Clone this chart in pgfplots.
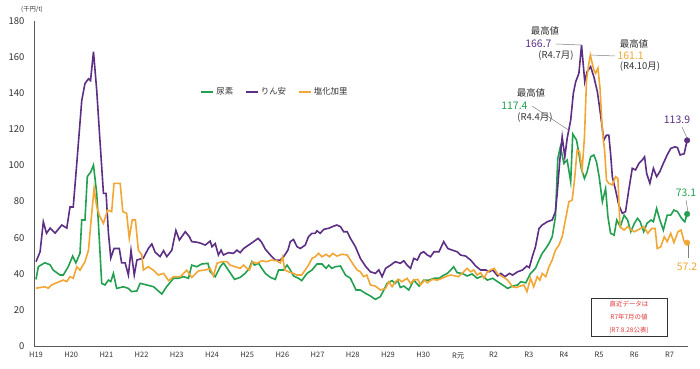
\documentclass[border=0pt]{standalone}
\usepackage{fontspec}
\setmainfont{Noto Sans CJK JP}
\setsansfont{Noto Sans CJK JP}
\usepackage{pgfplots}
\pgfplotsset{compat=1.18}
\definecolor{cgreen}{RGB}{34,160,80}
\definecolor{cpurple}{RGB}{92,46,132}
\definecolor{corange}{RGB}{242,166,52}
\definecolor{caxis}{RGB}{90,90,90}
\definecolor{cred}{RGB}{225,55,55}
\definecolor{ctext}{RGB}{50,50,50}
\begin{document}
\begin{tikzpicture}
\useasboundingbox (0,0) rectangle (700bp,369bp);
\begin{axis}[
  at={(34bp,23bp)}, anchor=south west,
  scale only axis, width=654bp, height=325bp,
  xmin=-0.68, xmax=222.3, ymin=0, ymax=180,
  axis x line*=bottom, axis y line*=left,
  axis line style={caxis, line width=0.9bp},
  major tick length=0pt,
  ytick={0,20,...,180},
  xtick={0,12,...,216},
  xticklabels={H19,H20,H21,H22,H23,H24,H25,H26,H27,H28,H29,H30,R元,R2,R3,R4,R5,R6,R7},
  /pgf/number format/assume math mode=true,
  yticklabel style={font=\fontsize{9.5}{10}\selectfont, text=ctext, xshift=-6bp},
  xticklabel style={font=\fontsize{7.5}{8}\selectfont, text=ctext, yshift=-3bp},
  clip=false,
  legend columns=3,
  legend style={draw=none, fill=none, at={(0.25,0.782)}, anchor=west,
    font=\fontsize{8.5}{9}\selectfont, text=ctext,
    /tikz/every even column/.append style={column sep=10bp}},
  legend image code/.code={\draw[#1, line width=1.6bp] (0bp,0bp) -- (12bp,0bp);},
]
\addplot[cgreen, line width=1.6bp] coordinates {
(0,36.9) (0.8,43.9) (3,46.1) (4.8,45) (5.9,42) (8.2,39.3) (9.3,39.3) (11,43.9) (12.5,49.8) (13.6,46) (15,51.3) (15.6,69.8) (16.7,69.8) (17.5,93.8) (18.7,96.5) (19.6,100.2) (20.7,84.5) (21.6,58.7) (22.4,34.7) (23.5,33.8) (24.7,36.5) (25.5,35.7) (26.4,40.2) (27.5,31.9) (29.8,32.8) (31.5,31.9) (32.6,30.1) (34.4,30.5) (35.5,34.7) (37.8,33.8) (40.1,32.8) (42.9,28.8) (44.6,33) (46.9,37.5) (48.6,37.5) (50.3,38.4) (52,37.5) (53.1,44.8) (54.8,43.9)
(56.5,45.4) (58.6,45.8) (59.4,41.1) (61.1,38.4) (62.8,43.9) (63.9,46.1) (65.6,42) (67.7,36.9) (69.6,38) (71.3,40.2) (72.7,43) (73.6,46.7) (74.5,44.8) (75.9,45.8) (77,43) (78.2,40.2) (79.9,38) (81.6,36.9) (82.7,42.1) (84.4,42.1) (85.6,44.8) (86.7,42.1) (87.8,38.8) (89.5,37.5) (90.6,36.2) (92.4,40.2) (94.1,42.1) (95.8,45.4) (97.5,45.4) (98.9,43) (99.8,44.8) (100.9,43) (102,43.9) (103.8,44.3) (105.5,39.3) (107.2,37.5) (108.3,33.8) (109.1,31) (110.6,31)
(112.3,29.2) (114,27.7) (115.7,25.8) (117.4,27.3) (118.6,31) (119.7,34.7) (121.4,36.2) (122.5,34.7) (123.3,36.5) (124.2,32.4) (125.4,33.2) (127.1,31) (128.8,36.5) (130.6,33.2) (132.2,36.5) (134,36.5) (135.7,37.5) (137.4,37.5) (139.1,39.3) (140.2,40.2) (141.4,42.1) (142.4,43.9) (143.6,40.6) (145.3,40.2) (147,38.8) (148.7,39.9) (150.4,37.5) (152.2,38.8) (153.9,36.5) (155.7,37.5) (157.4,35.6) (159.1,33.8) (160.8,31.9) (162.5,33.2) (164.2,33.8) (165.3,35.6) (167,35)
(168.6,40.2) (170.3,43) (171.5,47.6) (172.6,51.3) (173.8,54) (174.9,56.8) (176,60.5) (177.1,71.6) (177.9,103.9) (178.8,110.4) (180,101.1) (181.1,103) (182.3,91) (183,117.4) (184.3,114) (185.1,106.6) (185.9,98.4) (187,92.8) (187.9,96.5) (189.1,104.8) (190.2,105.8) (191.1,102) (192,93.8) (193.1,79.9) (194.2,87.2) (195,71.6) (195.9,62.4) (197.1,61.4) (198,69.8) (199.2,66.1) (200.5,72.5) (201.7,69.8) (202.8,63.3) (204,67.9) (205.1,70.7) (206,68.8) (207.2,63.3) (208.3,67.9) (209.7,69.8) (210.5,68.8) (211.6,76.2) (212.7,69.8) (213.9,64.2) (215.2,72.5) (216.4,72.5) (217.5,75.3) (218.7,74.4) (220.1,70.7) (221.2,68.8) (222,73.1)
};
\addlegendentry{尿素}
\addplot[cpurple, line width=1.6bp] coordinates {
(0,46.7) (1.4,52.2) (2.5,68.8) (3.6,62.4) (4.8,65.3) (6.5,62.5) (8.8,67) (10.5,65.3) (11.6,77) (12.7,77) (13.9,101) (15.6,136) (16.7,145.4) (17.9,148) (18.6,147) (19.6,163) (20.7,141.7) (21.8,114) (23,84.5) (23.9,84.5) (24.7,62.5) (25.5,48.7) (26.6,54) (28.4,54) (29.2,46) (30.4,46) (31.5,39.3) (32.4,53) (33.5,39.3) (34.4,47.6) (36.6,48.7) (38.3,54) (39.5,56.5) (40.6,52) (42.3,49.5) (43.5,52.8) (44.6,49.5) (46.3,53) (47.7,64) (48.9,58.7) (50.9,63.3) (52.3,60.5) (53.1,57.8) (54.8,57.5)
(56,57) (57.7,55.9) (59.4,58.1) (60,55) (61.1,56.8) (62.2,50.4) (63.1,53.1) (63.9,50.4) (65.6,51.7) (67.3,51.3) (68.5,53.1) (69.6,51.7) (70.8,54) (72.5,55.9) (74.2,57.8) (75.7,59.6) (76.8,57.8) (78.2,53.6) (79.9,50.4) (81.6,47.6) (83.3,47.6) (84.4,49.4) (85.9,53.1) (86.7,57.8) (87.8,59) (89,55) (90.1,54) (91.8,55.9) (92.9,60.5) (94.1,62.4) (95.2,62.4) (95.8,63.8) (96.9,62.4) (98.1,64.6) (99.8,65.2) (101.5,66.4) (102.6,67) (103.8,66.1) (104.9,63.3) (106.1,63.3) (107.2,59.6) (108.9,55) (110.6,48.5) (111.7,45.8)
(112.3,44.3) (114,41.1) (115.7,40.2) (116.9,42.1) (118,38.4) (119.2,43) (120.9,44.8) (122.5,46.7) (124.2,45.8) (125.4,47.2) (126.5,44.8) (127.7,43) (128.8,48.5) (130,47.6) (131.1,51.3) (132.2,52.2) (133.4,50.4) (134.5,49.4) (135.7,52.2) (137.4,52.2) (138.2,55) (139,57.8) (140.4,54) (141.9,53.1) (143.6,52.2) (144.7,50.4) (146.5,49.8) (148.2,47.6) (149.9,44.3) (151.6,42.1) (153.4,42.1) (154.5,41.1) (155.7,42.1) (157.4,38.8) (158.5,40.2) (159.9,38.4) (161.4,40.2) (162.5,39.3) (164.2,41.1) (165.9,42.1) (167.3,44.3) (168.2,43.4)
(169.2,49.4) (170.3,55) (171.5,65.1) (172.6,67) (174.3,68.8) (176,69.8) (177.1,74.4) (177.7,84.5) (178.6,103) (179.4,115.9) (180.3,104.8) (181.1,115) (182.3,125.1) (183.2,139.9) (184,146.3) (185.1,151) (186,166.7) (187.1,146.3) (187.9,151.9) (189.1,154.7) (190.2,149.1) (191.4,140.8) (192.5,127.9) (193.6,114) (194.5,116.8) (195.3,116.8) (195.9,106.6) (196.5,93.7) (197.6,86.4) (198.7,78.1) (199.9,73.5) (201,74.4) (202.1,86.4) (203.3,98.4) (204.4,97.5) (205.6,101.2) (206.7,103) (207.5,104.8) (208.2,95.6) (209.3,90.1) (210.5,98.4) (211.6,93.8) (212.7,96.6) (213.9,101.2) (215.2,105.8) (216.4,109.4) (217.8,110.3) (218.7,109.9) (219.6,105.8) (221,106.5) (222,113.9)
};
\addlegendentry{りん安}
\addplot[corange, line width=1.6bp] coordinates {
(0,32) (3,32.8) (4.2,32) (5.3,33.8) (7,35) (9.3,36.5) (10.5,35.7) (11.6,38.4) (12.7,37.5) (13.9,43.9) (15,42) (16.7,46.7) (17.9,53.1) (18.8,69.8) (19.8,87.3) (20.7,77.1) (21.8,71.6) (23,67.9) (24.4,75.3) (25.8,74.4) (26.6,90.1) (28.7,90.1) (29.6,74.4) (30.9,73.5) (31.8,59.6) (32.8,69.8) (33.9,69.8) (34.9,53.1) (36.1,50.4) (36.6,42.1) (38.3,43.9) (40,42) (41.7,39.3) (43.5,40.2) (45.2,36.2) (46.9,38.4) (49.2,38.4) (51.4,42) (53.1,38) (55.4,41.6)
(57.7,42.1) (59.4,43) (60.5,38.8) (61.7,45.8) (63.4,46.7) (65.1,46.7) (66.2,44.8) (67.9,43.9) (69.6,43) (70.8,44.8) (71.9,43) (72.8,42.1) (73.8,46.7) (75.3,45.8) (77,47.2) (78.7,46.7) (80.4,47.6) (82.1,47.2) (83.3,46) (84.1,49.4) (84.8,42.1) (86.1,41.1) (87.8,40.2) (89,39.3) (90.6,39.3) (91.8,42.1) (92.9,44.8) (94.1,48.5) (95.2,49.4) (96.4,51.3) (97.5,49.4) (98.9,50.8) (100,49.4) (101.2,51.3) (102.6,49.8) (104.3,50.8) (106.1,50.4) (107.2,47.6) (108.3,44.8) (109.5,42.1) (110.6,41.1) (111.7,38.4)
(112.8,39.3) (114,33.8) (115.7,33.2) (117.4,31) (119.2,31.9) (120.3,35.6) (121.4,32.8) (122.5,35.6) (123.7,36.9) (124.8,35.6) (126.5,37.5) (127.7,34.7) (128.8,36.5) (130.2,36.9) (131.1,33.8) (132.5,36.5) (133.4,35) (135.1,36.9) (136.8,36.5) (138.5,37.5) (140.2,38.8) (141.4,39.3) (143,38.8) (144.1,38.4) (145.8,41.1) (147,43) (148.2,41.1) (149.3,42.1) (150.4,39.3) (151.6,40.6) (152.7,37.5) (153.9,41.1) (155,42.1) (156.2,43) (157.4,39.9) (159.1,38.4) (160.8,36.5) (162.5,32.8) (163.7,32.4) (165.1,33.2) (166.3,33.8) (167.4,30.1) (168.6,37.5) (169.7,32.8)
(170.9,38.4) (171.8,36.5) (172.6,40.2) (173.8,38.4) (174.9,43.9) (176,47.6) (177.1,53.1) (178.3,55.9) (179.4,60.5) (180.5,69.8) (181.7,79.9) (182.8,80.8) (183.6,91.9) (184.5,108.5) (185.3,107.6) (186.2,97.5) (187,115.9) (187.7,147.3) (188.5,156.5) (189,161.1) (190.2,152.8) (190.8,151) (191.6,153.8) (192.3,142.7) (193.1,119.6) (193.9,107.6) (194.5,91.9) (195.3,90.1) (196.5,89.2) (197.6,93.8) (198.4,92.8) (199.1,66.1) (200.5,64.2) (201.7,66.1) (203,64.2) (204,63.3) (205.6,64.6) (207.2,66.1) (208.6,62.4) (209.9,65.1) (211.1,65.1) (211.8,54) (213,54.9) (214.2,60.5) (215.2,57.8) (216.4,62.4) (217.5,57.3) (218.9,63.3) (219.9,64.2) (221,57.8) (222,57.2)
};
\addlegendentry{塩化加里}
\addplot[cpurple, only marks, mark=*, mark size=2.8bp, forget plot] coordinates {(222,113.9)};
\addplot[cgreen, only marks, mark=*, mark size=2.8bp, forget plot] coordinates {(222,73.1)};
\addplot[corange, only marks, mark=*, mark size=2.8bp, forget plot] coordinates {(222,57.2)};
\end{axis}
\begin{scope}[shift={(0bp,369bp)}, yscale=-1, x=1bp, y=1bp]
  \node[font=\fontsize{6.3}{7}\selectfont, text=ctext] at (32,10) {(千円/t)};
  % purple max
  \node[font=\fontsize{9.5}{10}\selectfont, text=ctext] at (545,31) {最高値};
  \node[font=\fontsize{10.5}{11}\selectfont, text=cpurple, anchor=east] at (555,44) {166.7};
  \draw[gray, line width=0.5bp] (556,44) -- (581,45);
  \node[font=\fontsize{9.5}{10}\selectfont, text=ctext] at (556,56) {(R4.7月)};
  % orange max
  \node[font=\fontsize{9.5}{10}\selectfont, text=ctext] at (634,44) {最高値};
  \node[font=\fontsize{10.5}{11}\selectfont, text=corange, anchor=west] at (614,56) {161.1};
  \draw[gray, line width=0.5bp] (591,55) -- (615,56);
  \node[font=\fontsize{9.5}{10}\selectfont, text=ctext] at (640,67) {(R4.10月)};
  % green max
  \node[font=\fontsize{9.5}{10}\selectfont, text=ctext] at (531,93) {最高値};
  \node[font=\fontsize{10.5}{11}\selectfont, text=cgreen, anchor=east] at (531,106) {117.4};
  \draw[gray, line width=0.5bp] (532,106) -- (570,131);
  \node[font=\fontsize{9.5}{10}\selectfont, text=ctext] at (535,118) {(R4.4月)};
  % latest values
  \node[font=\fontsize{10.5}{11}\selectfont, text=cpurple] at (677,120) {113.9};
  \draw[gray, line width=0.5bp] (682,127) -- (687,138);
  \node[font=\fontsize{10.5}{11}\selectfont, text=cgreen] at (686,193) {73.1};
  \draw[gray, line width=0.5bp] (686,200) -- (688,212);
  \node[font=\fontsize{10.5}{11}\selectfont, text=corange] at (687,267) {57.2};
  \draw[gray, line width=0.5bp] (688,245) -- (688,258);
  % box
  \draw[ctext, line width=0.8bp] (591,298) rectangle (667,336);
  \node[font=\fontsize{6.5}{7}\selectfont, text=cred] at (629,304) {直近データは};
  \node[font=\fontsize{6.5}{7}\selectfont, text=cred] at (629,317) {R7年7月の値};
  \node[font=\fontsize{6.5}{7}\selectfont, text=cred] at (629,330) {(R7.8.28公表)};
\end{scope}
\end{tikzpicture}
\end{document}
